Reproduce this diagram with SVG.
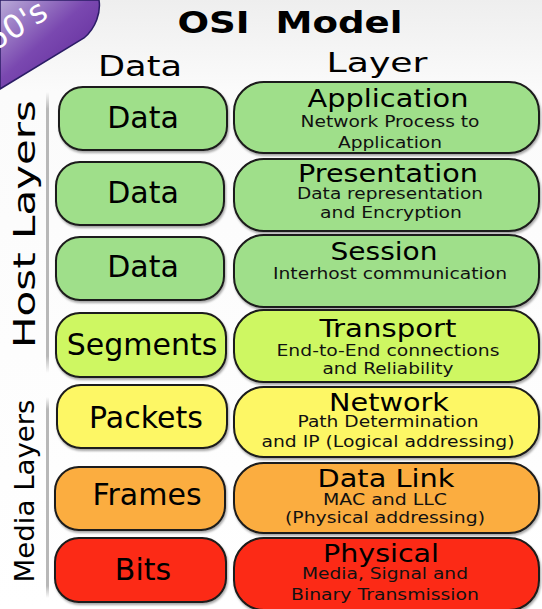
<svg xmlns="http://www.w3.org/2000/svg" width="542" height="609" viewBox="0 0 542 609">
<defs>
  <linearGradient id="bg" x1="0" y1="0" x2="0" y2="1">
    <stop offset="0" stop-color="#eeeeee"/>
    <stop offset="0.15" stop-color="#fbfbfb"/>
    <stop offset="1" stop-color="#ffffff"/>
  </linearGradient>
  <linearGradient id="purple" x1="0" y1="0" x2="1" y2="1">
    <stop offset="0" stop-color="#b9abd8"/>
    <stop offset="0.45" stop-color="#7a48b0"/>
    <stop offset="1" stop-color="#5a2294"/>
  </linearGradient>
  <linearGradient id="sep" x1="0" y1="0" x2="0" y2="1">
    <stop offset="0" stop-color="#b8b8b8" stop-opacity="0"/>
    <stop offset="0.06" stop-color="#b8b8b8"/>
    <stop offset="0.94" stop-color="#b8b8b8"/>
    <stop offset="1" stop-color="#b8b8b8" stop-opacity="0"/>
  </linearGradient>
  <filter id="sh" x="-5%" y="-10%" width="112%" height="130%">
    <feDropShadow dx="1" dy="2" stdDeviation="1.2" flood-color="#000" flood-opacity="0.35"/>
  </filter>
  <clipPath id="bannerClip">
    <path d="M0,0 L99,0 C101,12 96,28 84,38 L0,89 Z"/>
  </clipPath>
</defs>
<style>
  text{font-family:"DejaVu Sans","Liberation Sans",sans-serif;fill:#000}
  .box{stroke:#1a1a1a;stroke-width:2;filter:url(#sh)}
  .g{fill:#9fdf8a}
  .yg{fill:#cef762}
  .y{fill:#fdf765}
  .o{fill:#fbad41}
  .r{fill:#fc2a17}
  .lbl{font-size:30px;text-anchor:middle}
  .t{font-size:25px;text-anchor:middle}
  .s{font-size:16.5px;text-anchor:middle;fill:#111}
  .side{text-anchor:middle}
</style>

<rect x="0" y="0" width="542" height="609" fill="url(#bg)"/>

<g id="banner">
  <path d="M0,0 L99,0 C101,12 96,28 84,38 L0,89 Z" fill="url(#purple)" stroke="#2b1d66" stroke-width="1.5"/>
  <g clip-path="url(#bannerClip)">
    <text transform="translate(50,17) rotate(-32)" style="font-size:32px;fill:#fff;text-anchor:end">60's</text>
  </g>
</g>

<g id="title">
  <text x="290" y="33" style="font-size:31px;font-weight:bold;text-anchor:middle;white-space:pre" textLength="225" lengthAdjust="spacingAndGlyphs">OSI  Model</text>
</g>
<g id="header-data">
  <text x="140" y="76" style="font-size:29px;text-anchor:middle" textLength="84" lengthAdjust="spacingAndGlyphs">Data</text>
</g>
<g id="header-layer">
  <text x="377" y="72" style="font-size:27px;text-anchor:middle" textLength="101" lengthAdjust="spacingAndGlyphs">Layer</text>
</g>

<g id="host-layers">
  <rect x="46" y="92" width="3" height="281" fill="url(#sep)"/>
  <text class="side" transform="translate(35,224) rotate(-90)" style="font-size:30px" textLength="248" lengthAdjust="spacingAndGlyphs">Host Layers</text>
</g>
<g id="media-layers">
  <rect x="46" y="397" width="3" height="201" fill="url(#sep)"/>
  <text class="side" transform="translate(34,491) rotate(-90)" style="font-size:27px" textLength="183" lengthAdjust="spacingAndGlyphs">Media Layers</text>
</g>

<!-- Data unit column -->
<g id="pdu-data-7">
  <rect class="box g" x="59" y="87" width="168" height="63" rx="24"/>
  <text class="lbl" x="143" y="128">Data</text>
</g>
<g id="pdu-data-6">
  <rect class="box g" x="56" y="162" width="168" height="63" rx="24"/>
  <text class="lbl" x="143" y="203">Data</text>
</g>
<g id="pdu-data-5">
  <rect class="box g" x="56" y="237" width="168" height="63" rx="24"/>
  <text class="lbl" x="143" y="277">Data</text>
</g>
<g id="pdu-segments">
  <rect class="box yg" x="56" y="313" width="170" height="64" rx="24"/>
  <text class="lbl" x="142" y="355">Segments</text>
</g>
<g id="pdu-packets">
  <rect class="box y" x="57" y="385" width="170" height="63" rx="24"/>
  <text class="lbl" x="146" y="428">Packets</text>
</g>
<g id="pdu-frames">
  <rect class="box o" x="55" y="467" width="170" height="63" rx="24"/>
  <text class="lbl" x="147" y="505">Frames</text>
</g>
<g id="pdu-bits">
  <rect class="box r" x="55" y="538" width="171" height="64" rx="24"/>
  <text class="lbl" x="143" y="580">Bits</text>
</g>

<!-- Layer column -->
<g id="layer-application">
  <rect class="box g" x="234" y="82" width="305" height="71" rx="30"/>
  <text class="t" x="388" y="107" textLength="161" lengthAdjust="spacingAndGlyphs">Application</text>
  <text class="s" x="390" y="127" textLength="179" lengthAdjust="spacingAndGlyphs">Network Process to</text>
  <text class="s" x="390" y="148" textLength="104" lengthAdjust="spacingAndGlyphs">Application</text>
</g>
<g id="layer-presentation">
  <rect class="box g" x="234" y="159" width="305" height="72" rx="30"/>
  <text class="t" x="388" y="182" textLength="180" lengthAdjust="spacingAndGlyphs">Presentation</text>
  <text class="s" x="390" y="199" textLength="186" lengthAdjust="spacingAndGlyphs">Data representation</text>
  <text class="s" x="391" y="218" textLength="142" lengthAdjust="spacingAndGlyphs">and Encryption</text>
</g>
<g id="layer-session">
  <rect class="box g" x="234" y="235" width="305" height="72" rx="30"/>
  <text class="t" x="384" y="260" textLength="107" lengthAdjust="spacingAndGlyphs">Session</text>
  <text class="s" x="390" y="279" textLength="234" lengthAdjust="spacingAndGlyphs">Interhost communication</text>
</g>
<g id="layer-transport">
  <rect class="box yg" x="234" y="310" width="305" height="72" rx="30"/>
  <text class="t" x="388" y="337" textLength="137" lengthAdjust="spacingAndGlyphs">Transport</text>
  <text class="s" x="388" y="356" textLength="223" lengthAdjust="spacingAndGlyphs">End-to-End connections</text>
  <text class="s" x="388" y="374" textLength="131" lengthAdjust="spacingAndGlyphs">and Reliability</text>
</g>
<g id="layer-network">
  <rect class="box y" x="234" y="387" width="305" height="70" rx="30"/>
  <text class="t" x="389" y="411" textLength="120" lengthAdjust="spacingAndGlyphs">Network</text>
  <text class="s" x="388" y="427" textLength="181" lengthAdjust="spacingAndGlyphs">Path Determination</text>
  <text class="s" x="388" y="447" textLength="253" lengthAdjust="spacingAndGlyphs">and IP (Logical addressing)</text>
</g>
<g id="layer-datalink">
  <rect class="box o" x="234" y="463" width="305" height="70" rx="30"/>
  <text class="t" x="386" y="487" textLength="137" lengthAdjust="spacingAndGlyphs">Data Link</text>
  <text class="s" x="385" y="505" textLength="124" lengthAdjust="spacingAndGlyphs">MAC and LLC</text>
  <text class="s" x="385" y="523" textLength="200" lengthAdjust="spacingAndGlyphs">(Physical addressing)</text>
</g>
<g id="layer-physical">
  <rect class="box r" x="234" y="538" width="305" height="72" rx="30"/>
  <text class="t" x="381" y="562" textLength="116" lengthAdjust="spacingAndGlyphs">Physical</text>
  <text class="s" x="385" y="579" textLength="166" lengthAdjust="spacingAndGlyphs">Media, Signal and</text>
  <text class="s" x="385" y="600" textLength="188" lengthAdjust="spacingAndGlyphs">Binary Transmission</text>
</g>
</svg>
